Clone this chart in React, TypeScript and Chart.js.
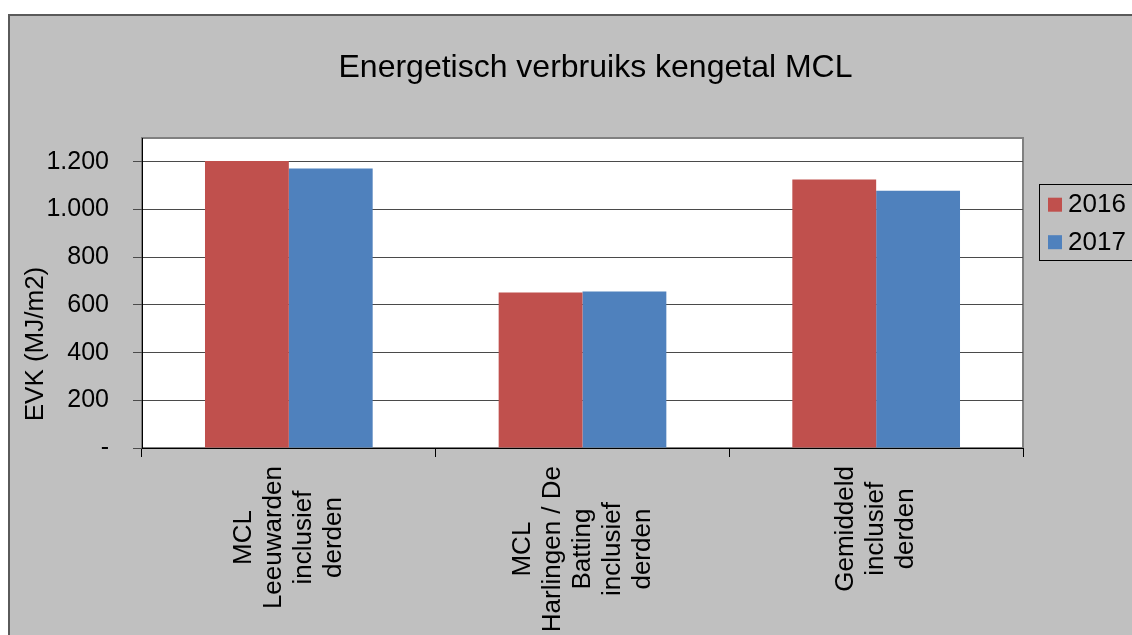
import React, { useEffect, useRef } from "react";
import { Chart, registerables } from "chart.js";

Chart.register(...registerables);

// ---- Data ----
const categoryLabels: string[][] = [
  ["MCL", "Leeuwarden", "inclusief", "derden"],
  ["MCL", "Harlingen / De", "Batting", "inclusief", "derden"],
  ["Gemiddeld", "inclusief", "derden"],
];
const seriesNames = ["2016", "2017"];
const values2016 = [1204, 652, 1126];
const values2017 = [1172, 656, 1079];
const seriesColors = ["#C0504D", "#4F81BD"];
const chartTitle = "Energetisch verbruiks kengetal MCL";
const yAxisTitle = "EVK (MJ/m2)";
const yMax = 1300;
const yTickValues = [0, 200, 400, 600, 800, 1000, 1200];

const FONT = '"Liberation Sans", Arial, Helvetica, sans-serif';

const fmt = (v: number) =>
  v === 0 ? "-" : String(v).replace(/\B(?=(\d{3})+(?!\d))/g, ".");

const decorPlugin = {
  id: "decor",
  beforeDraw(chart: any) {
    const { ctx, chartArea: a, width, height } = chart;
    ctx.save();
    // outer frame
    ctx.fillStyle = "#C0C0C0";
    ctx.fillRect(8, 14, width - 8, height - 14);
    ctx.fillStyle = "#5a5a5a";
    ctx.fillRect(8, 14, width - 8, 2);
    ctx.fillRect(8, 14, 2, height - 14);
    // plot area
    ctx.fillStyle = "#FFFFFF";
    ctx.fillRect(a.left, a.top, a.right - a.left, a.bottom - a.top);
    ctx.strokeStyle = "#808080";
    ctx.lineWidth = 2;
    ctx.strokeRect(a.left, a.top, a.right - a.left, a.bottom - a.top);
    ctx.restore();
  },
  afterDraw(chart: any) {
    const { ctx, chartArea: a } = chart;
    ctx.save();
    ctx.fillStyle = "#000";

    // Title
    ctx.font = `32px ${FONT}`;
    ctx.textAlign = "center";
    ctx.textBaseline = "alphabetic";
    ctx.fillText(chartTitle, 595.5, 77);

    // Y axis title
    ctx.save();
    ctx.font = `26px ${FONT}`;
    ctx.translate(43, a.bottom - 104);
    ctx.rotate(-Math.PI / 2);
    ctx.textAlign = "center";
    ctx.textBaseline = "alphabetic";
    ctx.fillText(yAxisTitle, 0, 0);
    ctx.restore();

    // X category labels (rotated, centered lines)
    const xs = chart.scales.x;
    ctx.font = `26px ${FONT}`;
    const labels = chart.data.labels as string[][];
    labels.forEach((lines, i) => {
      const cx = xs.getPixelForTick(i);
      const maxW = Math.max(...lines.map((l) => ctx.measureText(l).width));
      const cy = a.bottom + 18 + maxW / 2;
      lines.forEach((line, j) => {
        const lx = cx + (j - (lines.length - 1) / 2) * 30;
        ctx.save();
        ctx.translate(lx, cy);
        ctx.rotate(-Math.PI / 2);
        ctx.textAlign = "center";
        ctx.textBaseline = "middle";
        ctx.fillText(line, 0, 0);
        ctx.restore();
      });
    });

    // Legend
    const lx = a.right + 16;
    const ly = 184;
    ctx.strokeStyle = "#000";
    ctx.lineWidth = 1;
    ctx.strokeRect(lx + 0.5, ly + 0.5, 200, 76);
    chart.data.datasets.forEach((ds: any, i: number) => {
      const y = ly + 13.7 + i * 37.5;
      ctx.fillStyle = ds.backgroundColor;
      ctx.fillRect(lx + 9, y, 14, 14);
      ctx.fillStyle = "#000";
      ctx.font = `26px ${FONT}`;
      ctx.textAlign = "left";
      ctx.textBaseline = "alphabetic";
      ctx.fillText(ds.label, lx + 29, y + 14.6);
    });
    ctx.restore();
  },
};

export default function App() {
  const ref = useRef<HTMLCanvasElement>(null);
  useEffect(() => {
    const chart = new Chart(ref.current as HTMLCanvasElement, {
      type: "bar",
      data: {
        labels: categoryLabels,
        datasets: [
          {
            label: seriesNames[0],
            data: values2016,
            backgroundColor: seriesColors[0],
            borderWidth: 0,
            barPercentage: 1,
            categoryPercentage: 0.571,
          },
          {
            label: seriesNames[1],
            data: values2017,
            backgroundColor: seriesColors[1],
            borderWidth: 0,
            barPercentage: 1,
            categoryPercentage: 0.571,
          },
        ],
      },
      options: {
        animation: false,
        responsive: false,
        devicePixelRatio: 1,
        layout: { padding: { top: 138, right: 109, left: 0, bottom: 0 } },
        plugins: {
          legend: { display: false },
          title: { display: false },
          tooltip: { enabled: false },
        },
        scales: {
          x: {
            type: "category",
            offset: true,
            grid: {
              display: true,
              drawOnChartArea: false,
              drawTicks: true,
              tickLength: 9,
              color: "#000",
              offset: true,
              lineWidth: 1,
            },
            border: { display: true, color: "#000", width: 1 },
            ticks: { display: false },
            afterFit: (s: any) => {
              s.height = 187;
            },
          },
          y: {
            min: 0,
            max: yMax,
            ticks: {
              font: { family: FONT, size: 25 },
              color: "#000",
              padding: 24,
              autoSkip: false,
              callback: (v: any) => fmt(Number(v)),
            },
            grid: { color: "#4a4a4a", tickLength: 9, drawTicks: true, lineWidth: 1 },
            border: { display: true, color: "#000", width: 1 },
            afterBuildTicks: (s: any) => {
              s.ticks = yTickValues.map((v) => ({ value: v }));
            },
            afterFit: (s: any) => {
              s.width = 142;
            },
          },
        },
      } as any,
      plugins: [decorPlugin],
    });
    return () => chart.destroy();
  }, []);
  return (
    <div
      style={{
        position: "fixed",
        left: 0,
        top: 0,
        width: 1132,
        height: 635,
        overflow: "hidden",
        background: "#fff",
      }}
    >
      <canvas
        ref={ref}
        width={1132}
        height={635}
        style={{ display: "block", width: 1132, height: 635 }}
      />
    </div>
  );
}
